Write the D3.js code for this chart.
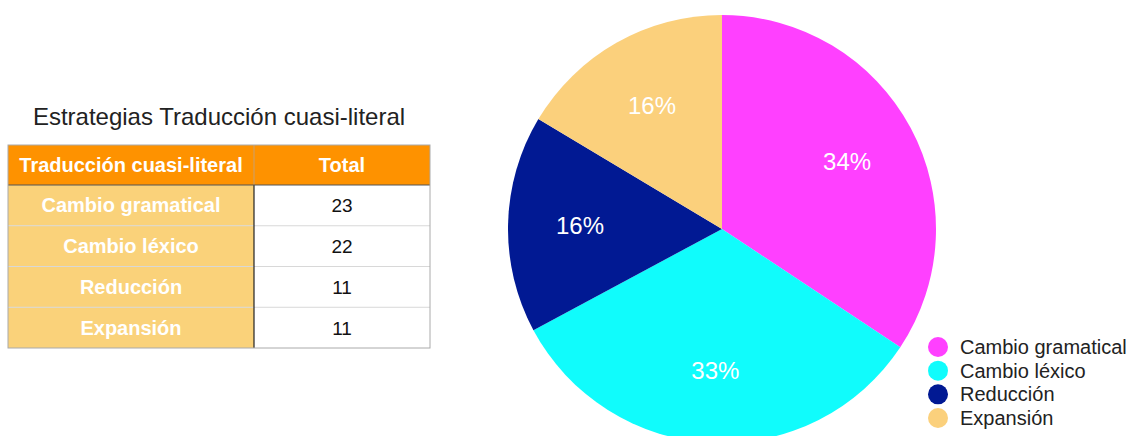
<!DOCTYPE html>
<html>
<head>
<meta charset="utf-8">
<script src="https://cdn.jsdelivr.net/npm/d3@7"></script>
<style>
  body { margin: 0; background: #fff; }
  svg { font-family: "Liberation Sans", Arial, Helvetica, sans-serif; }
</style>
</head>
<body>
<svg width="1136" height="436"></svg>
<script>
// data
const categories = ['Cambio gramatical', 'Cambio léxico', 'Reducción', 'Expansión'];
const totals = [23, 22, 11, 11];
const colors = ['#ff40ff', '#10fcfc', '#011993', '#fbd07c'];
const title = 'Estrategias Traducción cuasi-literal';
const headers = ['Traducción cuasi-literal', 'Total'];

const w = 1136;
const h = 436;

const svg = d3.select('svg')
    .attr('width', w)
    .attr('height', h);

//table on the left
const tbl = { x: 8, y: 145, w: 422, split: 254, headH: 40, rowH: 40.75 };

svg.append('text')
    .attr('x', 219)
    .attr('y', 125)
    .attr('text-anchor', 'middle')
    .style('font-size', '24px')
    .style('fill', '#222')
    .text(title);

const rowY = d3.scaleBand()
    .domain(d3.range(categories.length))
    .range([tbl.y + tbl.headH, tbl.y + tbl.headH + tbl.rowH * categories.length]);

// header
svg.append('rect')
    .attr('x', tbl.x).attr('y', tbl.y)
    .attr('width', tbl.w).attr('height', tbl.headH)
    .style('fill', '#fe9200');

svg.selectAll('.head')
    .data(headers)
    .enter()
    .append('text')
    .attr('class', 'head')
    .attr('x', (d, i) => i == 0 ? (tbl.x + tbl.split) / 2 : (tbl.split + tbl.x + tbl.w) / 2)
    .attr('y', tbl.y + tbl.headH / 2 + 7)
    .attr('text-anchor', 'middle')
    .style('font-size', '20px')
    .style('font-weight', 'bold')
    .style('fill', '#fff')
    .text(d => d);

// body rows
const rows = svg.selectAll('.row')
    .data(categories)
    .enter()
    .append('g')
    .attr('class', 'row')
    .attr('transform', (d, i) => 'translate(0,' + rowY(i) + ')');

rows.append('rect')
    .attr('x', tbl.x).attr('y', 0)
    .attr('width', tbl.split - tbl.x).attr('height', rowY.bandwidth())
    .style('fill', '#fad27a');

rows.append('rect')
    .attr('x', tbl.split).attr('y', 0)
    .attr('width', tbl.x + tbl.w - tbl.split).attr('height', rowY.bandwidth())
    .style('fill', '#fff');

rows.append('text')
    .attr('x', (tbl.x + tbl.split) / 2)
    .attr('y', rowY.bandwidth() / 2 + 7)
    .attr('text-anchor', 'middle')
    .style('font-size', '20px')
    .style('font-weight', 'bold')
    .style('fill', '#fff')
    .text(d => d);

rows.append('text')
    .attr('x', (tbl.split + tbl.x + tbl.w) / 2)
    .attr('y', rowY.bandwidth() / 2 + 7)
    .attr('text-anchor', 'middle')
    .style('font-size', '19px')
    .style('fill', '#111')
    .text((d, i) => totals[i]);

// grid lines
rows.filter((d, i) => i > 0)
    .append('line')
    .attr('x1', tbl.x).attr('x2', tbl.x + tbl.w)
    .attr('y1', 0).attr('y2', 0)
    .style('stroke', '#d8d8d8')
    .style('stroke-width', 1);

const tblBottom = tbl.y + tbl.headH + tbl.rowH * categories.length;
svg.append('line')
    .attr('x1', tbl.split).attr('x2', tbl.split)
    .attr('y1', tbl.y).attr('y2', tbl.y + tbl.headH)
    .style('stroke', '#c8a070').style('stroke-width', 1);
svg.append('line')
    .attr('x1', tbl.split).attr('x2', tbl.split)
    .attr('y1', tbl.y + tbl.headH).attr('y2', tblBottom)
    .style('stroke', '#222').style('stroke-width', 1.2);
svg.append('line')
    .attr('x1', tbl.x).attr('x2', tbl.x + tbl.w)
    .attr('y1', tbl.y + tbl.headH).attr('y2', tbl.y + tbl.headH)
    .style('stroke', '#555').style('stroke-width', 1);
svg.append('rect')
    .attr('x', tbl.x).attr('y', tbl.y)
    .attr('width', tbl.w).attr('height', tblBottom - tbl.y)
    .style('fill', 'none')
    .style('stroke', '#aaa')
    .style('stroke-width', 1);

//pie chart
const cx = 722, cy = 229, r = 214;
const pie = d3.pie().sort(null).value(d => d);
const arcs = pie(totals);
const arc = d3.arc().innerRadius(0).outerRadius(r);
const labelArc = d3.arc().innerRadius(142).outerRadius(142);
const sum = d3.sum(totals);

const g = svg.append('g').attr('transform', 'translate(' + cx + ',' + cy + ')');

g.selectAll('path')
    .data(arcs)
    .enter()
    .append('path')
    .attr('d', arc)
    .style('fill', (d, i) => colors[i]);

g.selectAll('.pct')
    .data(arcs)
    .enter()
    .append('text')
    .attr('class', 'pct')
    .attr('transform', d => 'translate(' + labelArc.centroid(d) + ')')
    .attr('dy', '0.35em')
    .attr('text-anchor', 'middle')
    .style('font-size', '24px')
    .style('fill', '#fff')
    .text(d => Math.round(d.value / sum * 100) + '%');

//legend
const legY = d3.scalePoint()
    .domain(categories)
    .range([347, 418]);

const legend = svg.append('g').attr('id', 'legend');

legend.selectAll('circle')
    .data(categories)
    .enter()
    .append('circle')
    .attr('cx', 938)
    .attr('cy', d => legY(d))
    .attr('r', 10)
    .style('fill', (d, i) => colors[i]);

legend.selectAll('text')
    .data(categories)
    .enter()
    .append('text')
    .attr('x', 960)
    .attr('y', d => legY(d))
    .attr('dy', '0.35em')
    .style('font-size', '20px')
    .style('fill', '#222')
    .text(d => d);
</script>
</body>
</html>
